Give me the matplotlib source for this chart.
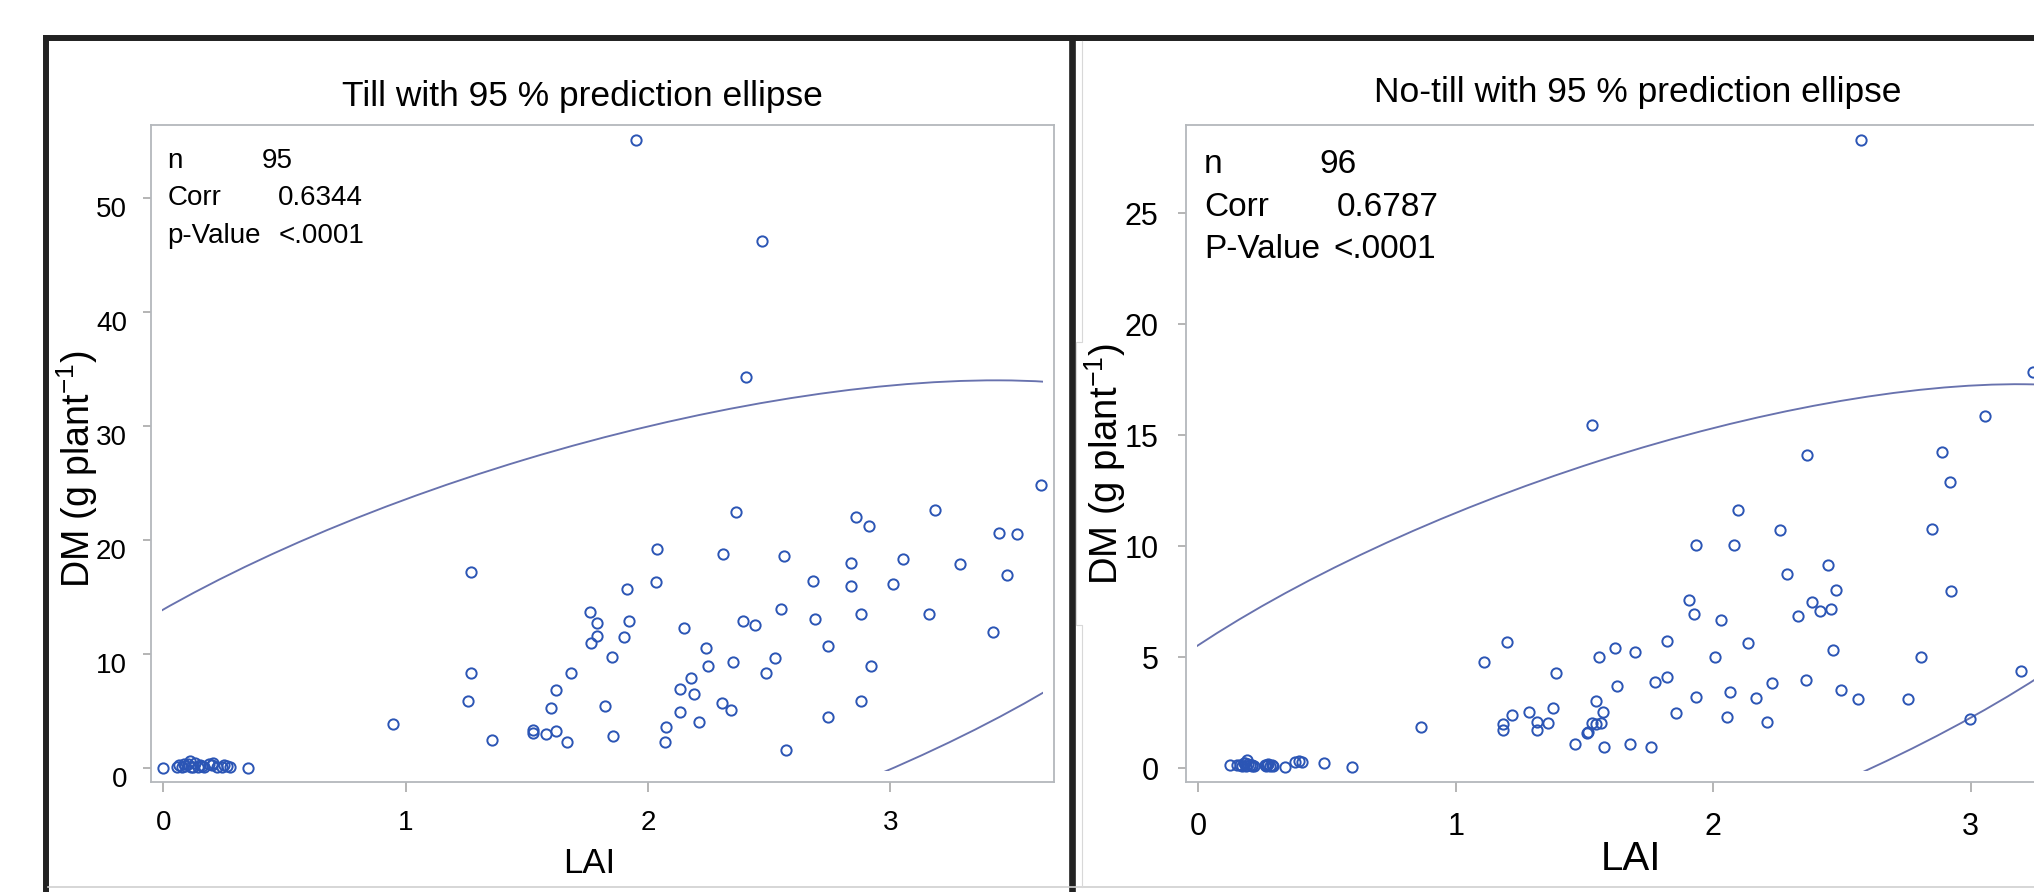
import numpy as np
import matplotlib
matplotlib.use('Agg')
import matplotlib.pyplot as plt
from matplotlib import font_manager
from matplotlib.patches import Ellipse, Rectangle
from matplotlib.lines import Line2D
from matplotlib.transforms import ScaledTranslation

# === data ===
till_lai = [0.00, 0.055, 0.065, 0.076, 0.085, 0.09, 0.10, 0.11, 0.115, 0.124, 0.13, 0.145,
            0.15, 0.158, 0.17, 0.19, 0.20, 0.207, 0.22, 0.241, 0.25, 0.262, 0.275, 0.351,
            0.947, 1.272, 1.270, 1.259, 1.357, 1.524, 1.524, 1.580, 1.621, 1.602, 1.621, 1.668,
            1.683, 1.762, 1.788, 1.788, 1.767, 1.821, 1.853, 1.854, 1.901, 1.915, 1.920, 1.952,
            2.033, 2.038, 2.071, 2.075, 2.132, 2.132, 2.151, 2.179, 2.191, 2.210, 2.238, 2.250,
            2.304, 2.311, 2.344, 2.351, 2.365, 2.391, 2.403, 2.443, 2.469, 2.489, 2.523, 2.550,
            2.561, 2.569, 2.682, 2.689, 2.742, 2.742, 2.840, 2.840, 2.860, 2.879, 2.879, 2.914,
            2.921, 3.012, 3.053, 3.159, 3.185, 3.290, 3.424, 3.449, 3.483, 3.522, 3.623]
till_dm = [0.05, 0.15, 0.30, 0.14, 0.40, 0.20, 0.35, 0.64, 0.10, 0.14, 0.45, 0.14,
           0.30, 0.20, 0.10, 0.35, 0.29, 0.50, 0.15, 0.14, 0.30, 0.20, 0.14, 0.06,
           3.88, 17.23, 8.38, 5.90, 2.48, 3.35, 3.10, 2.98, 3.30, 5.28, 6.83, 2.33,
           8.38, 13.70, 12.73, 11.62, 11.01, 5.46, 9.78, 2.80, 11.51, 15.69, 12.88, 55.1,
           16.30, 19.22, 2.33, 3.59, 6.98, 4.96, 12.27, 7.94, 6.54, 4.03, 10.57, 8.99,
           5.75, 18.78, 5.14, 9.32, 22.49, 12.91, 34.3, 12.56, 46.2, 8.38, 9.64, 13.96,
           18.64, 1.58, 16.44, 13.06, 10.75, 4.50, 18.02, 15.98, 22.05, 13.50, 5.90, 21.26,
           8.99, 16.15, 18.32, 13.50, 22.67, 17.88, 11.95, 20.62, 16.94, 20.51, 24.83]

notill_lai = [0.124, 0.150, 0.163, 0.170, 0.176, 0.18, 0.185, 0.189, 0.195, 0.202, 0.208, 0.21,
              0.215, 0.260, 0.265, 0.269, 0.27, 0.279, 0.285, 0.292, 0.337, 0.376, 0.39, 0.402,
              0.490, 0.596,
              0.864, 1.111, 1.185, 1.185, 1.198, 1.217, 1.285, 1.316, 1.316, 1.360,
              1.379, 1.390, 1.465, 1.511, 1.515, 1.528, 1.529, 1.545, 1.545, 1.558,
              1.563, 1.571, 1.577, 1.620, 1.626, 1.677, 1.695, 1.757, 1.775, 1.819,
              1.819, 1.856, 1.905, 1.924, 1.933, 1.933, 2.006, 2.030, 2.055, 2.067,
              2.080, 2.098, 2.135, 2.166, 2.210, 2.230, 2.259, 2.285, 2.328, 2.359,
              2.366, 2.384, 2.415, 2.446, 2.459, 2.464, 2.477, 2.495, 2.564, 2.574,
              2.757, 2.806, 2.850, 2.887, 2.918, 2.925, 2.999, 3.054, 3.197, 3.243]
notill_dm = [0.15, 0.15, 0.15, 0.10, 0.22, 0.25, 0.12, 0.37, 0.20, 0.15, 0.10, 0.15,
             0.12, 0.15, 0.10, 0.15, 0.18, 0.12, 0.15, 0.10, 0.05, 0.30, 0.35, 0.30,
             0.22, 0.07,
             1.85, 4.79, 2.00, 1.73, 5.67, 2.40, 2.54, 2.10, 1.73, 2.05,
             2.70, 4.31, 1.09, 1.58, 1.65, 15.46, 2.03, 3.05, 2.00, 5.01,
             2.05, 2.55, 0.95, 5.40, 3.72, 1.09, 5.25, 0.95, 3.90, 5.75,
             4.13, 2.48, 7.58, 6.94, 10.06, 3.20, 5.03, 6.69, 2.31, 3.42,
             10.04, 11.65, 5.66, 3.18, 2.07, 3.83, 10.71, 8.77, 6.86, 3.99,
             14.11, 7.49, 7.10, 9.17, 7.16, 5.34, 8.05, 3.51, 3.12, 28.3,
             3.12, 5.03, 10.77, 14.26, 12.91, 7.97, 2.24, 15.87, 4.38, 17.87]

# 95 % prediction ellipses (centre and scaled covariance)
till_center = (1.79, 9.96)
till_cov = [[7.08, 39.6], [39.6, 578.0]]
notill_center = (1.651, 4.966)
notill_cov = [[5.32, 18.89], [18.89, 152.1]]

till_stats = [('n', '95'), ('Corr', '0.6344'), ('p-Value', '<.0001')]
notill_stats = [('n', '96'), ('Corr', '0.6787'), ('P-Value', '<.0001')]

# === style ===
W, H = 2034, 892
installed = {f.name for f in font_manager.fontManager.ttflist}
NARROW = 'Liberation Sans Narrow' if 'Liberation Sans Narrow' in installed else 'Liberation Sans'
plt.rcParams['font.family'] = [NARROW, 'DejaVu Sans']
plt.rcParams['mathtext.fontset'] = 'custom'
plt.rcParams['mathtext.rm'] = 'Liberation Sans'
plt.rcParams['mathtext.default'] = 'regular'

BLUE = '#2B55B5'
ELL = '#6872AE'
AXGRAY = '#B4B8BC'
FRAME = '#222222'


def fx(px):
    return px / W


def fy(py):
    return 1 - py / H


def px_rect(x0, y0, x1, y1):
    return [x0 / W, 1 - y1 / H, (x1 - x0) / W, (y1 - y0) / H]


def fig_line(fig, xs, ys, **kw):
    fig.add_artist(Line2D([fx(x) for x in xs], [fy(y) for y in ys],
                          transform=fig.transFigure, **kw))


def draw_panel(ax, lai, dm, center, cov, xlim, ylim, yticks, fs, xpad, ypad):
    ax.set_xlim(*xlim)
    ax.set_ylim(*ylim)
    ax.plot(lai, dm, 'o', mfc='none', mec=BLUE, ms=7.4, mew=1.4, zorder=3)

    # prediction ellipse, clipped to the inner data area like SAS does
    vals, vecs = np.linalg.eigh(np.array(cov))
    angle = np.degrees(np.arctan2(vecs[1, 1], vecs[0, 1]))
    ell = Ellipse(center, 2 * np.sqrt(vals[1]), 2 * np.sqrt(vals[0]), angle=angle,
                  fill=False, edgecolor=ELL, lw=1.35, zorder=2)
    ax.add_patch(ell)
    bb = ax.get_position()
    dx = 11 / (bb.width * W)
    dy = 11 / (bb.height * H)
    ell.set_clip_path(Rectangle((dx, dy), 1 - 2 * dx, 1 - 2 * dy, transform=ax.transAxes))

    ax.set_xticks([0, 1, 2, 3])
    ax.set_yticks(yticks)
    ax.tick_params(direction='out', color='#A0A0A0', width=1.1, labelsize=fs)
    ax.tick_params(axis='x', length=7, pad=xpad)
    ax.tick_params(axis='y', length=6, pad=ypad)
    for s in ax.spines.values():
        s.set_color(AXGRAY)
        s.set_linewidth(1.3)


fig = plt.figure(figsize=(W / 100, H / 100), dpi=100)

# --- Till ---
ax1 = fig.add_axes(px_rect(150.5, 125, 1053.5, 782))
draw_panel(ax1, till_lai, till_dm, till_center, till_cov,
           (-0.0528, 3.674), (-1.20, 56.38), range(0, 51, 10), 20, 13, 11)
shift = ScaledTranslation(0, -9 / 100, fig.dpi_scale_trans)
for t in ax1.yaxis.get_major_ticks():
    t.label1.set_transform(t.label1.get_transform() + shift)

fig.text(fx(582), fy(106), 'Till with 95 % prediction ellipse', fontsize=25.5,
         ha='center', va='baseline')
for (name, val), base, vx in zip(till_stats, [168, 205, 243], [261.7, 277.5, 279]):
    fig.text(fx(167.4), fy(base), name, fontsize=20, va='baseline')
    fig.text(fx(vx), fy(base), val, fontsize=20, va='baseline')
fig.text(fx(589), fy(873), 'LAI', fontsize=25, ha='center', va='baseline')
fig.text(fx(77), fy(469), r'DM (g plant$^{-1}$)', fontsize=27, rotation=90,
         ha='center', va='center', family='Liberation Sans')

# --- No-till (image is cut at the right edge) ---
ax2 = fig.add_axes(px_rect(1185.7, 125.3, 2128, 781.7))
draw_panel(ax2, notill_lai, notill_dm, notill_center, notill_cov,
           (-0.0485, 3.611), (-0.604, 28.96), range(0, 26, 5), 22, 15, 13.5)

fig.text(fx(1637.5), fy(101.7), 'No-till with 95 % prediction ellipse', fontsize=25.5,
         ha='center', va='baseline')
for (name, val), base, vx in zip(notill_stats, [173, 216, 258], [1319.6, 1336.4, 1333.3]):
    fig.text(fx(1204), fy(base), name, fontsize=24, va='baseline')
    fig.text(fx(vx), fy(base), val, fontsize=24, va='baseline')
fig.text(fx(1631), fy(870), 'LAI', fontsize=29, ha='center', va='baseline')
fig.text(fx(1105), fy(464), r'DM (g plant$^{-1}$)', fontsize=27.5, rotation=90,
         ha='center', va='center', family='Liberation Sans')

# --- pasted-figure frame ---
fig_line(fig, [43, W], [38, 38], color=FRAME, lw=4.3, solid_capstyle='butt')
fig_line(fig, [45.5, 45.5], [35, H], color=FRAME, lw=4.3, solid_capstyle='butt')
fig_line(fig, [1071.5, 1071.5], [35, H], color=FRAME, lw=4.8, solid_capstyle='butt')
fig_line(fig, [48, W], [886.5, 886.5], color='#CFCFCF', lw=1.2)
fig_line(fig, [1082, 1082, 1076, 1076, 1082, 1082], [41, 342, 342, 625, 625, 887],
         color='#D8D8D8', lw=0.8)

fig.savefig('out.png', dpi=100)
